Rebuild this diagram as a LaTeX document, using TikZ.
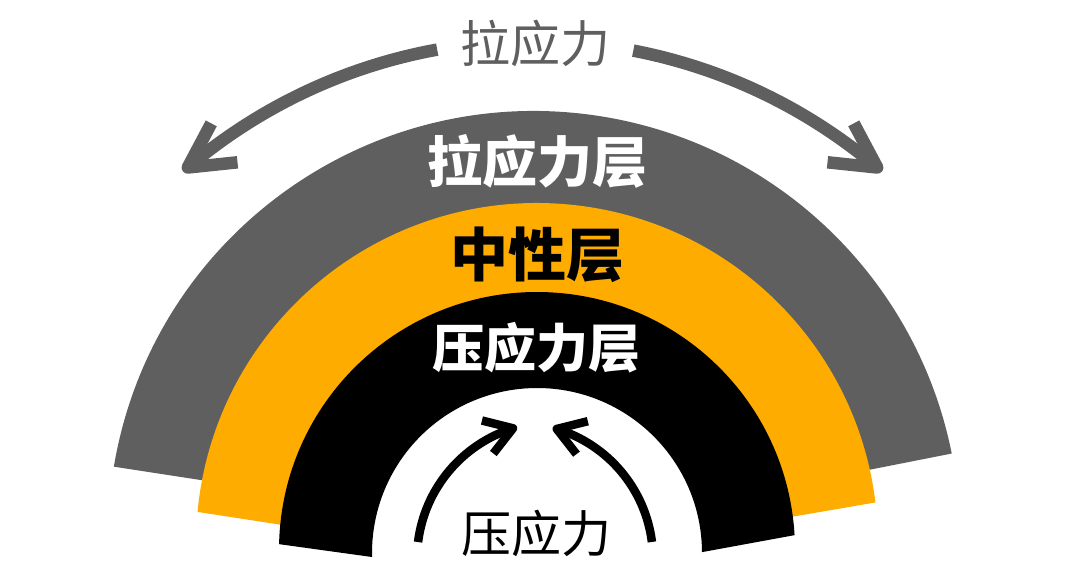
\documentclass[tikz,border=0pt]{standalone}
\usepackage{fontspec}
\newfontfamily\cjk{Noto Sans CJK SC}
\usetikzlibrary{calc}
\definecolor{bandgray}{HTML}{5F5F5F}
\definecolor{bandorange}{HTML}{FFAC00}
\begin{document}
\begin{tikzpicture}[x=1pt,y=1pt,
  lbl/.style={inner sep=0pt, anchor=center},
  toparrow/.style={draw=bandgray, line width=12.5pt, line cap=butt},
  tophead/.style={draw=bandgray, line width=12.5pt, line cap=butt, line join=round},
  botarrow/.style={draw=black, line width=8.5pt, line cap=butt},
  bothead/.style={draw=black, line width=8.5pt, line cap=butt, line join=round}]
\useasboundingbox (0,0) rectangle (1080,583);
% centres of the arcs
\coordinate (C1) at (534,46);
\coordinate (C2) at (537,39);
\coordinate (C3) at (537,33);
\coordinate (C4) at (537,30);
% tension band (gray)
\fill[bandgray] ($(C1)+(170.5:426)$) arc[start angle=170.5,end angle=11.3,radius=426]
  -- ($(C2)+(12.6:337)$) arc[start angle=12.6,end angle=169.2,radius=337] -- cycle;
% neutral band (orange)
\fill[bandorange] ($(C2)+(174.6:341)$) arc[start angle=174.6,end angle=7.0,radius=341]
  -- ($(C3)+(7.4:255)$) arc[start angle=7.4,end angle=174.4,radius=255] -- cycle;
% compression band (black)
\fill[black] ($(C3)+(178.7:258)$) arc[start angle=178.7,end angle=3.3,radius=258]
  -- ($(C4)+(0.3:165)$) arc[start angle=0.3,end angle=181.4,radius=165] -- cycle;
% labels
\node[lbl, text=white] (tensile) at (537.5,422) {\cjk\bfseries\fontsize{55}{60}\selectfont 拉应力层};
\node[lbl, text=black] (neutral) at (537.5,328.5) {\cjk\bfseries\fontsize{58}{62}\selectfont 中性层};
\node[lbl, text=white] (compress) at (536.5,235.5) {\cjk\bfseries\fontsize{52}{56}\selectfont 压应力层};
\node[lbl, text=bandgray] (tension) at (535,539.5) {\cjk\fontsize{50}{54}\selectfont 拉应力};
\node[lbl, text=black] (compression) at (536,49.5) {\cjk\fontsize{50}{54}\selectfont 压应力};
% top double arrow
\coordinate (OT) at (532.5,9);
\draw[toparrow] ($(OT)+(100.3:533)$) arc[start angle=100.3,end angle=130.3,radius=533] coordinate (tipL);
\draw[tophead] ($(tipL)+(62:50)$) -- (tipL) -- ($(tipL)+(6:50)$);
\draw[toparrow] ($(OT)+(79.1:533)$) arc[start angle=79.1,end angle=49.7,radius=533] coordinate (tipR);
\draw[tophead] ($(tipR)+(118:50)$) -- (tipR) -- ($(tipR)+(174:50)$);
% bottom arrows
\coordinate (OBL) at (554,24);
\coordinate (OBR) at (517,24);
\draw[botarrow] ($(OBL)+(172.9:137)$) arc[start angle=172.9,end angle=107.4,radius=137] coordinate (tipBL);
\draw[bothead] ($(tipBL)+(166:32)$) -- (tipBL) -- ($(tipBL)+(232:32)$);
\draw[botarrow] ($(OBR)+(7.2:136)$) arc[start angle=7.2,end angle=73,radius=136] coordinate (tipBR);
\draw[bothead] ($(tipBR)+(14:32)$) -- (tipBR) -- ($(tipBR)+(308:32)$);
\end{tikzpicture}
\end{document}
